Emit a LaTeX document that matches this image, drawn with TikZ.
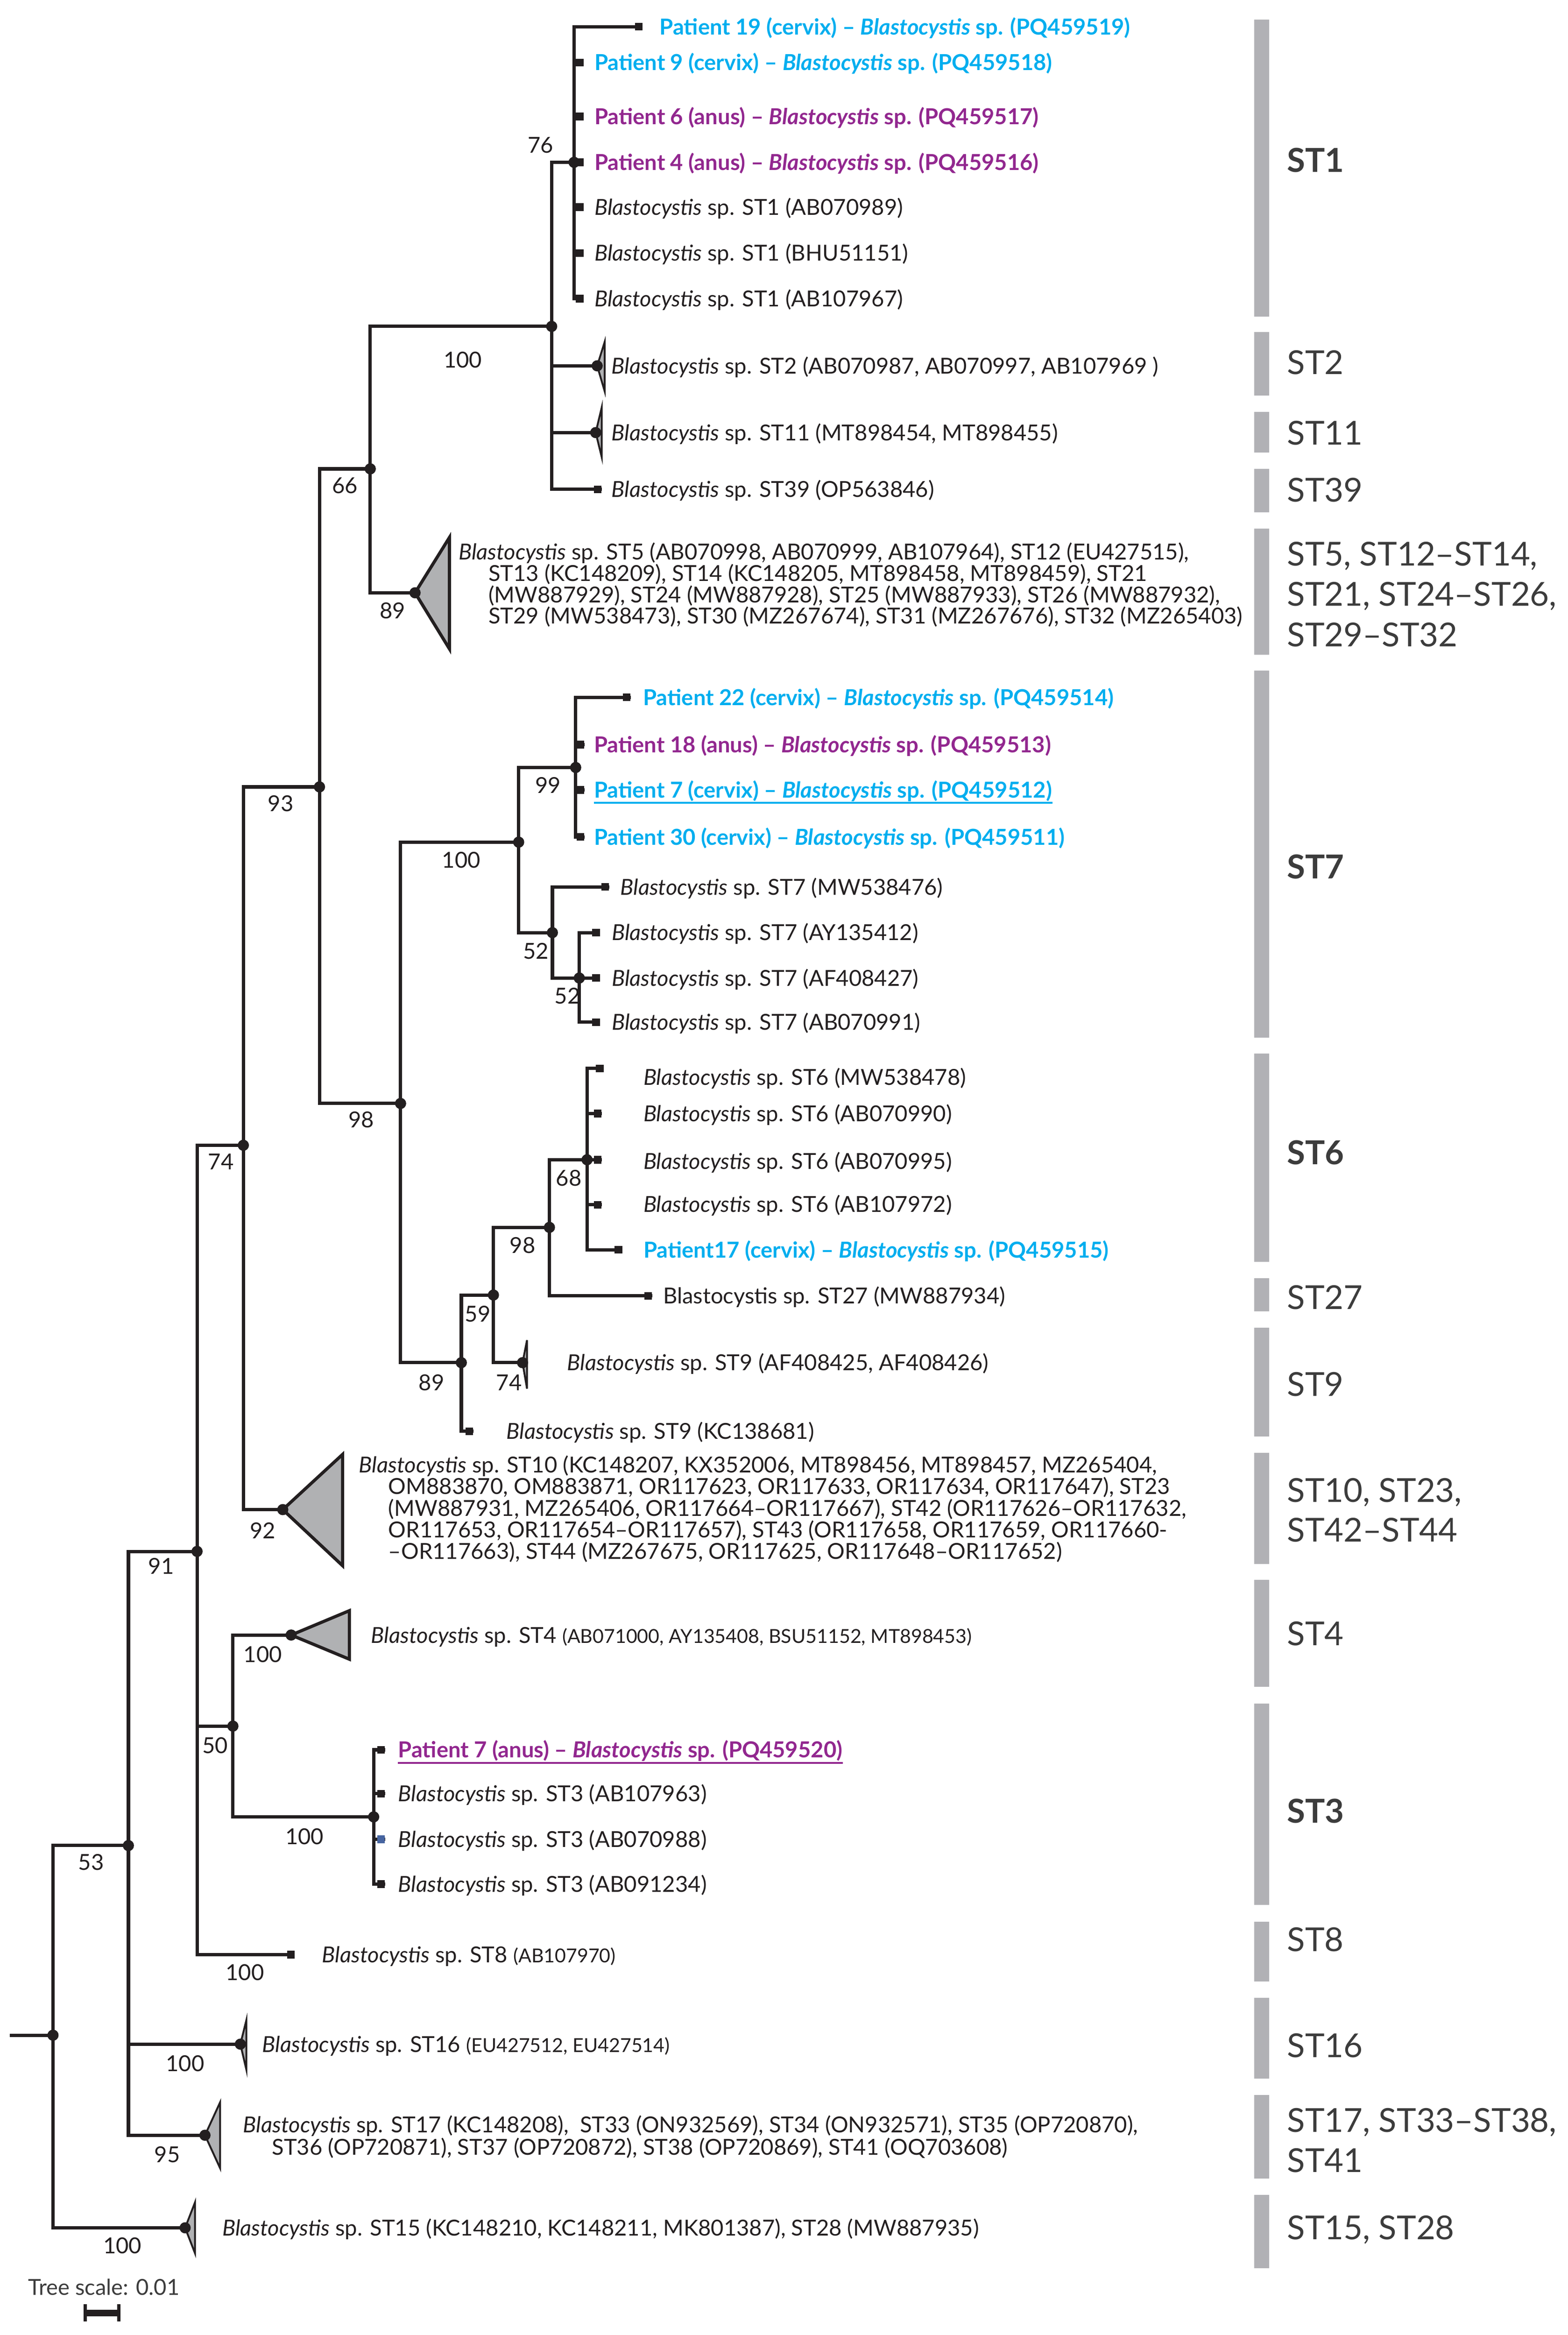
\documentclass[tikz,border=0pt]{standalone}
\usepackage{fontspec}
\setmainfont{Lato}
\definecolor{treecol}{HTML}{231F20}
\definecolor{cervix}{HTML}{00AEEF}
\definecolor{anus}{HTML}{92278F}
\definecolor{barcol}{HTML}{B1B1B5}
\definecolor{cladefill}{HTML}{B0B1B3}
\definecolor{stcol}{HTML}{3C3C3C}
\newcommand{\labfont}{\fontsize{15.35}{15}\selectfont}
\newcommand{\accfont}{\fontsize{13.4}{13}\selectfont}
\newcommand{\stfont}{\fontsize{23}{28}\selectfont}
\newcommand{\blasto}{\textit{Blastocystis}}
\tikzset{br/.style={draw=treecol, line width=2.3pt},
  dot/.style={circle, fill=treecol, inner sep=0pt, minimum size=7.8pt},
  tip/.style={rectangle, fill=treecol, inner sep=0pt, minimum size=5.3pt, anchor=east},
  clade/.style={draw=treecol, line width=2.2pt, fill=cladefill},
  bar/.style={fill=barcol},
  lab/.style={anchor=west, inner sep=0pt, text=treecol, font=\labfont, text height=11pt, text depth=0pt},
  patc/.style={lab, text=cervix, font=\labfont\bfseries},
  pata/.style={lab, text=anus, font=\labfont\bfseries},
  boot/.style={inner sep=0pt, text=treecol, font=\labfont, text height=11pt, text depth=0pt},
  stlab/.style={anchor=west, inner sep=0pt, text=stcol, font=\stfont, text height=16.5pt, text depth=0pt}}
\begin{document}
\begin{tikzpicture}[x=0.03659cm, y=-0.03659cm]
  \path[use as bounding box, fill=white] (0,0) rectangle (1050,1563.8);
  % inner nodes
  \foreach \n/\x/\y in {root/35.5/1363, n53/86/1236, n91/132/1039, n74/163/767, n93/214/527,
    n66/248/314, n100a/369.5/218.6, n76/384.5/108.7, n98a/268.3/739, n100b/347.4/564,
    n99/385.6/514, n52a/370/624.6, n52b/388/655, n89a/309/912.6, n59/330.5/867.3,
    n98b/368/822, n68/393.2/776.7, n50/156/1156, n100c/250.3/1216.8}
    \coordinate (\n) at (\x,\y);
  % collapsed clades
  \foreach \n/\x/\y in {c2/400/245, c11/399/289.7, c5/278/397, c9/350/912.6, c10/189.4/1011,
    c4/195/1095, c16/161/1369, c17/137.3/1430, c15/124/1492}
    \coordinate (\n) at (\x,\y);
  % leaves
  \foreach \n/\x/\y in {l19/430.5/17.9, l9/391/41.8, l6/391/78, l4/391/108.7, l89/391/138.7,
    l51/391/169.4, l67/391/200, l39/403/327.7, l22/422.5/467, l18/391.5/498.7, l7c/391.5/529,
    l30/391.5/560.5, l76/408/594, l12/402/624.6, l27a/402/655, l91/402/684.6,
    l78/404.5/715.5, l90/403/745.8, l95/403/776.7, l72/403/806.8, l17/417/837,
    l34/436.8/867.8, l81/317/958.5, l8/197.5/1309, l7a/258/1171.9, l63/258/1201.2,
    l88/258/1231.8, l234/258/1261.8}
    \coordinate (\n) at (\x,\y);
  \coordinate (stub) at (6.7,1363);

  % subtype bars
  \foreach \a/\b in {13.2/211.9, 222.5/265, 275.7/303, 314/343, 354/438.4, 449/695,
    705.7/845, 856/878.3, 889.3/962, 973/1047.5, 1058/1129.8, 1140.8/1275.8,
    1287/1327, 1338/1392, 1403/1459, 1470/1519}
    \fill[bar] (840,\a) rectangle (850,\b);

  % branches
  \draw[br] (stub) -- (root);
  \foreach \p/\c in {root/n53, root/c15, n53/n91, n53/c16, n53/c17, n91/n74, n91/n50, n91/l8,
    n74/n93, n74/c10, n93/n66, n93/n98a, n66/n100a, n66/c5,
    n100a/n76, n100a/c2, n100a/c11, n100a/l39,
    n76/l19, n76/l9, n76/l6, n76/l4, n76/l89, n76/l51, n76/l67,
    n98a/n100b, n98a/n89a, n100b/n99, n100b/n52a,
    n99/l22, n99/l18, n99/l7c, n99/l30, n52a/l76, n52a/n52b,
    n52b/l12, n52b/l27a, n52b/l91, n89a/n59, n89a/l81, n59/n98b, n59/c9,
    n98b/n68, n98b/l34, n68/l78, n68/l90, n68/l95, n68/l72, n68/l17,
    n50/c4, n50/n100c, n100c/l7a, n100c/l63, n100c/l88, n100c/l234}
    \draw[br] (\p) |- (\c);

  % collapsed triangles
  \foreach \c/\r/\t/\b in {c5/301/360/434.5, c10/229.5/974/1048.6, c4/234/1078.7/1111.2}
    \draw[clade] (\c) -- (\r,\t) -- (\r,\b) -- cycle;
  \foreach \c/\r/\t/\b in {c2/405/229/262, c11/403/273/306, c9/353/897.5/930,
    c16/165/1353/1386, c17/147.4/1408/1452, c15/130.6/1475/1509}
    \draw[clade, line width=1.3pt] (\c) -- (\r,\t) -- (\r,\b) -- cycle;

  % node dots and leaf tips
  \foreach \n in {root, n53, n91, n74, n93, n66, n100a, n76, n98a, n100b, n99, n52a, n52b,
    n89a, n59, n98b, n68, n50, n100c, c2, c11, c5, c9, c10, c4, c16, c17, c15}
    \node[dot] (d\n) at (\n) {};
  \foreach \n in {l19, l9, l6, l4, l89, l51, l67, l39, l22, l18, l7c, l30, l76, l12, l27a,
    l91, l78, l90, l95, l72, l17, l34, l81, l8, l7a, l63, l234}
    \node[tip] (t\n) at (\n) {};
  \node[tip, fill={rgb,255:red,70;green,100;blue,160}] (tl88) at (l88) {};

  % bootstrap values
  \foreach \v/\x/\y [count=\i] in {76/362/97, 100/310/241, 66/231/325, 89/263/409, 93/188/538,
    99/367/526, 100/309/576, 52/359/637, 52/380/667, 98/242/750, 68/381/789, 98/350/834,
    59/320/880, 74/341/926, 89/289/926, 74/148/778, 92/176/1025, 91/108/1049, 100/176/1108,
    50/144/1169, 100/204/1230, 100/164/1321, 53/61/1247, 100/124/1382, 95/112/1443,
    100/82/1504}
    \node[boot] (b\i) at (\x,\y) {\v};

  % ST1, ST2, ST11, ST39
  \node[patc] (p19) at (441.6,17.9) {Patient 19 (cervix) – \blasto{} sp. (PQ459519)};
  \node[patc] (p9) at (398,41.8) {Patient 9 (cervix) – \blasto{} sp. (PQ459518)};
  \node[pata] (p6) at (398,78) {Patient 6 (anus) – \blasto{} sp. (PQ459517)};
  \node[pata] (p4) at (398,108.7) {Patient 4 (anus) – \blasto{} sp. (PQ459516)};
  \node[lab] (s89) at (398,138.7) {\blasto{} sp. ST1 (AB070989)};
  \node[lab] (s51) at (398,169.4) {\blasto{} sp. ST1 (BHU51151)};
  \node[lab] (s67) at (398,200) {\blasto{} sp. ST1 (AB107967)};
  \node[lab] (s2) at (409.5,245) {\blasto{} sp. ST2 (AB070987, AB070997, AB107969 )};
  \node[lab] (s11) at (409.5,289.7) {\blasto{} sp. ST11 (MT898454, MT898455)};
  \node[lab] (s39) at (409.5,327.7) {\blasto{} sp. ST39 (OP563846)};
  % ST5 group
  \node[lab] (s5a) at (307,369.5) {\blasto{} sp. ST5 (AB070998, AB070999, AB107964), ST12 (EU427515),};
  \node[lab] (s5b) at (327,383.8) {ST13 (KC148209), ST14 (KC148205, MT898458, MT898459), ST21};
  \node[lab] (s5c) at (327,398.2) {(MW887929), ST24 (MW887928), ST25 (MW887933), ST26 (MW887932),};
  \node[lab] (s5d) at (327,412.4) {ST29 (MW538473), ST30 (MZ267674), ST31 (MZ267676), ST32 (MZ265403)};
  % ST7
  \node[patc] (p22) at (430.6,467) {Patient 22 (cervix) – \blasto{} sp. (PQ459514)};
  \node[pata] (p18) at (397.7,498.7) {Patient 18 (anus) – \blasto{} sp. (PQ459513)};
  \node[patc] (p7c) at (397.7,529) {Patient 7 (cervix) – \blasto{} sp. (PQ459512)};
  \draw[cervix, line width=1.4pt] ([yshift=-3.3pt]p7c.south west) -- ([yshift=-3.3pt]p7c.south east);
  \node[patc] (p30) at (397.7,560.5) {Patient 30 (cervix) – \blasto{} sp. (PQ459511)};
  \node[lab] (s76) at (415.3,594) {\blasto{} sp. ST7 (MW538476)};
  \node[lab] (s12) at (409.6,624.6) {\blasto{} sp. ST7 (AY135412)};
  \node[lab] (s27a) at (409.6,655) {\blasto{} sp. ST7 (AF408427)};
  \node[lab] (s91) at (409.6,684.6) {\blasto{} sp. ST7 (AB070991)};
  % ST6, ST27, ST9
  \node[lab] (s78) at (430.8,721.5) {\blasto{} sp. ST6 (MW538478)};
  \node[lab] (s90) at (430.8,745.8) {\blasto{} sp. ST6 (AB070990)};
  \node[lab] (s95) at (430.8,777.8) {\blasto{} sp. ST6 (AB070995)};
  \node[lab] (s72) at (430.8,806.6) {\blasto{} sp. ST6 (AB107972)};
  \node[patc] (p17) at (430.8,837) {Patient17 (cervix) – \blasto{} sp. (PQ459515)};
  \node[lab] (s34) at (444,867.8) {Blastocystis sp. ST27 (MW887934)};
  \node[lab] (s9) at (379.8,912.6) {\blasto{} sp. ST9 (AF408425, AF408426)};
  \node[lab] (s81) at (339,958.5) {\blasto{} sp. ST9 (KC138681)};
  % ST10 group
  \node[lab] (s10a) at (240.3,981) {\blasto{} sp. ST10 (KC148207, KX352006, MT898456, MT898457, MZ265404,};
  \node[lab] (s10b) at (260,995.5) {OM883870, OM883871, OR117623, OR117633, OR117634, OR117647), ST23};
  \node[lab] (s10c) at (260,1010) {(MW887931, MZ265406, OR117664–OR117667), ST42 (OR117626–OR117632,};
  \node[lab] (s10d) at (260,1024.5) {OR117653, OR117654–OR117657), ST43 (OR117658, OR117659, OR117660-};
  \node[lab] (s10e) at (260,1039) {–OR117663), ST44 (MZ267675, OR117625, OR117648–OR117652)};
  % ST4, ST3, ST8
  \node[lab] (s4) at (248.4,1095) {\blasto{} sp. ST4 {\accfont (AB071000, AY135408, BSU51152, MT898453)}};
  \node[pata] (p7a) at (266.5,1171.9) {Patient 7 (anus) – \blasto{} sp. (PQ459520)};
  \draw[anus, line width=1.4pt] ([yshift=-3.3pt]p7a.south west) -- ([yshift=-3.3pt]p7a.south east);
  \node[lab] (s63) at (266.5,1201.2) {\blasto{} sp. ST3 (AB107963)};
  \node[lab] (s88) at (266.5,1231.8) {\blasto{} sp. ST3 (AB070988)};
  \node[lab] (s234) at (266.5,1261.8) {\blasto{} sp. ST3 (AB091234)};
  \node[lab] (s8) at (215.6,1309) {\blasto{} sp. ST8 {\accfont (AB107970)}};
  % ST16, ST17, ST15
  \node[lab] (s16) at (175.5,1369) {\blasto{} sp. ST16 {\accfont (EU427512, EU427514)}};
  \node[lab] (s17a) at (162.7,1423) {\blasto{} sp. ST17 (KC148208),\ \ ST33 (ON932569), ST34 (ON932571), ST35 (OP720870),};
  \node[lab] (s17b) at (182,1438) {ST36 (OP720871), ST37 (OP720872), ST38 (OP720869), ST41 (OQ703608)};
  \node[lab] (s15) at (148.7,1492) {\blasto{} sp. ST15 (KC148210, KC148211, MK801387), ST28 (MW887935)};

  % subtype labels
  \node[stlab] (g1) at (862,107.4) {\textbf{ST1}};
  \node[stlab] (g2) at (862,242.6) {ST2};
  \node[stlab] (g11) at (862,290) {ST11};
  \node[stlab] (g39) at (862,328) {ST39};
  \node[stlab] (g5a) at (862,371) {ST5, ST12–ST14,};
  \node[stlab] (g5b) at (862,398) {ST21, ST24–ST26,};
  \node[stlab] (g5c) at (862,425) {ST29–ST32};
  \node[stlab] (g7) at (862,580.5) {\textbf{ST7}};
  \node[stlab] (g6) at (862,772) {\textbf{ST6}};
  \node[stlab] (g27) at (862,869) {ST27};
  \node[stlab] (g9) at (862,927) {ST9};
  \node[stlab] (g10a) at (862,998) {ST10, ST23,};
  \node[stlab] (g10b) at (862,1024.5) {ST42–ST44};
  \node[stlab] (g4) at (862,1094) {ST4};
  \node[stlab] (g3) at (862,1213) {\textbf{ST3}};
  \node[stlab] (g8) at (862,1299) {ST8};
  \node[stlab] (g16) at (862,1370) {ST16};
  \node[stlab] (g17a) at (862,1420) {ST17, ST33–ST38,};
  \node[stlab] (g17b) at (862,1447) {ST41};
  \node[stlab] (g15) at (862,1492) {ST15, ST28};

  % tree scale
  \node[lab, text=stcol] (tscale) at (18.7,1531.6) {Tree scale: 0.01};
  \coordinate (sbl) at (57,1549);
  \coordinate (sbr) at (79.5,1549);
  \draw[treecol, line width=4.4pt] (sbl) -- (sbr);
  \draw[treecol, line width=2.4pt] ([yshift=6pt]sbl) -- ([yshift=-6pt]sbl);
  \draw[treecol, line width=2.4pt] ([yshift=6pt]sbr) -- ([yshift=-6pt]sbr);
\end{tikzpicture}
\end{document}
